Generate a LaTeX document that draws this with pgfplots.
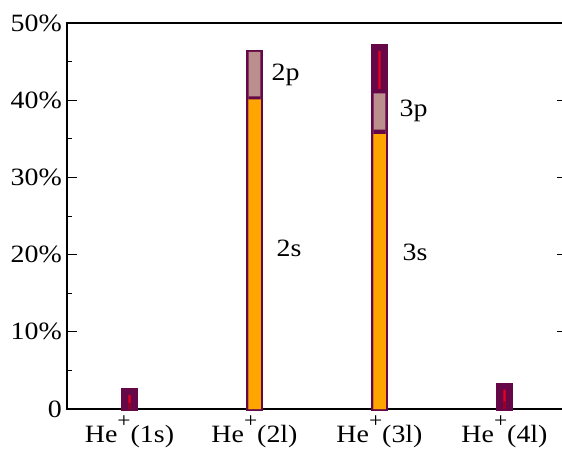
\documentclass[border=0pt]{standalone}
\usepackage{fontspec}
\setmainfont{Liberation Serif}
\usepackage{pgfplots}
\pgfplotsset{compat=1.18}
\definecolor{barpurple}{RGB}{102,8,72}
\definecolor{barorange}{RGB}{255,165,0}
\definecolor{barpink}{RGB}{188,143,143}
\definecolor{barred}{RGB}{232,0,30}
\definecolor{bardark}{RGB}{140,0,40}
\newcommand{\lbl}{\fontsize{25}{30}\selectfont}
\newcommand{\Hep}[1]{\scalebox{1.12}[1]{He\raisebox{0.6em}{\fontsize{21}{21}\selectfont +}(#1)}}
\begin{document}
\lbl
\begin{tikzpicture}
\begin{axis}[
  scale only axis, width=500bp, height=386bp,
  xmin=-0.5, xmax=3.5, ymin=0, ymax=50,
  enlargelimits=false,
  clip=false,
  ybar, bar shift=0pt,
  axis line style={line width=1.2bp, black},
  xtick={0,1,2,3},
  xticklabels={\Hep{1s},\Hep{2l},\Hep{3l},\Hep{4l}},
  xtick style={draw=none},
  ytick={0,10,20,30,40,50},
  yticklabels={\scalebox{1.12}[1]{0},\scalebox{1.12}[1]{10\%},\scalebox{1.12}[1]{20\%},\scalebox{1.12}[1]{30\%},\scalebox{1.12}[1]{40\%},\scalebox{1.12}[1]{50\%}},
  minor ytick={5,15,25,35,45},
  tick align=inside,
  major tick length=10bp, minor tick length=5bp,
  every tick/.style={black, line width=1bp},
  /pgf/number format/assume math mode=true,
  tick label style={font=\lbl},
  yticklabel style={inner sep=0pt, xshift=-5bp},
  xticklabel style={anchor=base, inner sep=0pt, yshift=-33bp},
]
\coordinate (bl) at (rel axis cs:0,0);
% outer dark bars
\addplot[fill=barpurple, draw=barpurple, line width=3bp, bar width=0.1096]
  coordinates {(0,2.5) (1,46.3) (2,47.1) (3,3.2)};
% red segments
\addplot[fill=barred, draw=none, bar width=0.018]
  coordinates {(0,1.8) (2,46.4) (3,2.5)};
\addplot[fill=bardark, draw=none, bar width=0.018]
  coordinates {(0,0.8) (3,1.0)};
\addplot[fill=barpurple, draw=none, bar width=0.018]
  coordinates {(2,41.4)};
% p states
\addplot[fill=barpink, draw=none, bar width=0.094]
  coordinates {(1,46.25) (2,40.9)};
\addplot[fill=barpurple, draw=none, bar width=0.094]
  coordinates {(1,40.5) (2,36.2)};
% s states
\addplot[fill=barorange, draw=none, bar width=0.1]
  coordinates {(1,40.1) (2,35.6)};
\node[anchor=base west, inner sep=0pt, font=\lbl] at (axis cs:1.136,42.6) {\scalebox{1.12}[1]{2p}};
\node[anchor=base west, inner sep=0pt, font=\lbl] at (axis cs:1.176,19.7) {\scalebox{1.12}[1]{2s}};
\node[anchor=base west, inner sep=0pt, font=\lbl] at (axis cs:2.16,37.95) {\scalebox{1.12}[1]{3p}};
\node[anchor=base west, inner sep=0pt, font=\lbl] at (axis cs:2.184,19.3) {\scalebox{1.12}[1]{3s}};
\end{axis}
\pgfresetboundingbox
\path[use as bounding box] (bl) ++(-67bp,-41bp) rectangle ++(562bp,450bp);
\end{tikzpicture}
\end{document}
